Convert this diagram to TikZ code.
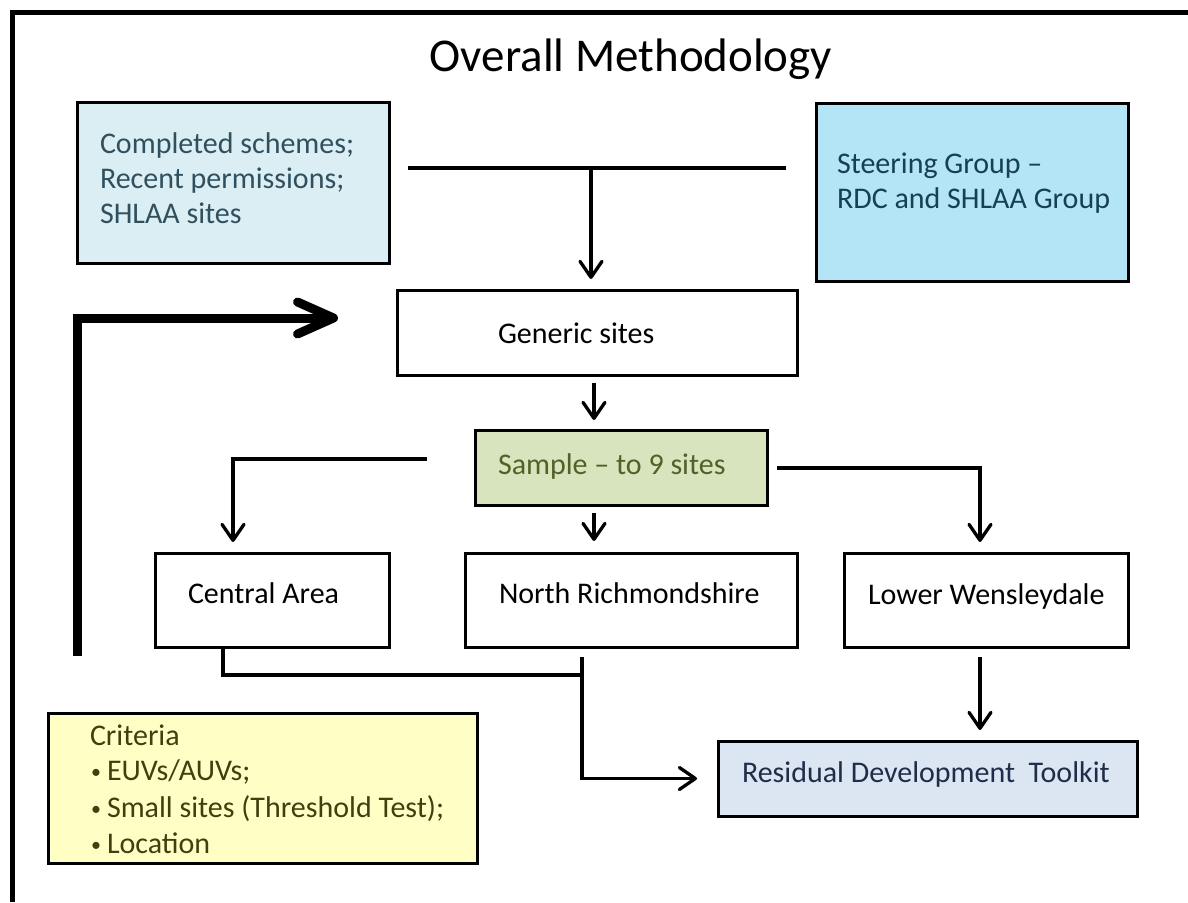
\documentclass[tikz,border=0pt]{standalone}
\usepackage{fontspec}
\setmainfont{Carlito}
\usetikzlibrary{arrows.meta}
\definecolor{compfill}{HTML}{DAEEF3}
\definecolor{comptext}{HTML}{31505F}
\definecolor{steerfill}{HTML}{B4E5F7}
\definecolor{steertext}{HTML}{173F55}
\definecolor{sampfill}{HTML}{D7E4BD}
\definecolor{samptext}{HTML}{4F6228}
\definecolor{resfill}{HTML}{DCE6F2}
\definecolor{restext}{HTML}{1F2D4A}
\definecolor{critfill}{HTML}{FFFFC5}
\definecolor{crittext}{HTML}{403F10}
\begin{document}
\begin{tikzpicture}[x=1pt,y=-1pt,
  box/.style={draw=black, line width=3pt, inner sep=0pt, outer sep=0pt, anchor=north west},
  txt/.style={anchor=base west, inner sep=0pt, outer sep=0pt, font=\fontsize{30}{36}\selectfont},
  bul/.style={anchor=base west, inner sep=0pt, outer sep=0pt, font=\fontsize{20}{24}\selectfont, text=crittext},
  conn/.style={line width=3.3pt, line join=miter},
  arr/.style={conn, -{Straight Barb[length=16pt,width=22pt,round]}},
  bigarr/.style={line width=9pt, line join=miter, -{Straight Barb[length=36pt,width=32pt,round]}}]
\fill[white] (0,0) rectangle (1188,902);
\useasboundingbox (0,0) rectangle (1188,902);
% frame
\draw[line width=5pt] (12,902) -- (12,12) -- (1188,12);
% title
\node[anchor=base, inner sep=0pt, font=\fontsize{47}{56}\selectfont] (title) at (631,71) {Overall Methodology};
% boxes
\node[box, fill=compfill, minimum width=312pt, minimum height=161pt] (comp) at (77,102) {};
\node[box, fill=steerfill, minimum width=312pt, minimum height=178pt] (steer) at (816,103) {};
\node[box, fill=white, minimum width=400pt, minimum height=85pt] (gen) at (397,290) {};
\node[box, fill=sampfill, minimum width=292pt, minimum height=75pt] (samp) at (475,430) {};
\node[box, fill=white, minimum width=234pt, minimum height=94pt] (cent) at (155,553) {};
\node[box, fill=white, minimum width=332pt, minimum height=94pt] (north) at (465,553) {};
\node[box, fill=white, minimum width=284pt, minimum height=94pt] (lower) at (844,553) {};
\node[box, fill=resfill, minimum width=419pt, minimum height=75pt] (resid) at (718,741) {};
\node[box, fill=critfill, minimum width=429pt, minimum height=150pt] (crit) at (48,713) {};
% texts
\node[txt, text=comptext] (c1) at (100,153) {Completed schemes;};
\node[txt, text=comptext] (c2) at (100,188) {Recent permissions;};
\node[txt, text=comptext] (c3) at (100,223) {SHLAA sites};
\node[txt, text=steertext] (s1) at (837,173) {Steering Group –};
\node[txt, text=steertext] (s2) at (837,208) {RDC and SHLAA Group};
\node[txt] (g1) at (498,343) {Generic sites};
\node[txt, text=samptext] (sa1) at (498,474) {Sample – to 9 sites};
\node[txt] (ce1) at (188,603) {Central Area};
\node[txt] (no1) at (499,603) {North Richmondshire};
\node[txt] (lo1) at (868,604) {Lower Wensleydale};
\node[txt, text=restext] (re1) at (742,782) {Residual Development~ Toolkit};
\node[txt, text=crittext] (k1) at (90,745) {Criteria};
\node[bul] (b2) at (91,778) {•};
\node[txt, text=crittext] (k2) at (107,780) {EUVs/AUVs;};
\node[bul] (b3) at (91,815) {•};
\node[txt, text=crittext] (k3) at (107,817) {Small sites (Threshold Test);};
\node[bul] (b4) at (91,851) {•};
\node[txt, text=crittext] (k4) at (107,853) {Location};
% helper coordinates
\coordinate (tl) at (408,168);
\coordinate (tr) at (786,168);
\coordinate (tj) at (591,168);
\coordinate (cx) at (594,0);
\coordinate (sl) at (427,459);
\coordinate (cl) at (233,0);
\coordinate (sr) at (777,468);
\coordinate (rl) at (980,0);
\coordinate (cb) at (223,0);
\coordinate (jn) at (582,675);
\coordinate (fb) at (77,656);
\coordinate (ft) at (338,318);
% connectors
\draw[conn] (tl) -- (tr);
\draw[arr, shorten >=11pt] (tj) -- (tj |- gen.north);
\draw[arr, shorten <=8pt, shorten >=10pt] (gen.south -| cx) -- (samp.north -| cx);
\draw[arr, shorten >=11pt] (sl) -| (cent.north -| cl);
\draw[arr, shorten <=8pt, shorten >=12pt] (samp.south -| cx) -- (north.north -| cx);
\draw[arr, shorten >=11pt] (sr) -| (lower.north -| rl);
\draw[arr, shorten <=10pt, shorten >=11pt] (lower.south -| rl) -- (resid.north -| rl);
\draw[conn] (cent.south -| cb) |- (jn);
\draw[arr, shorten <=10pt, shorten >=21pt] (north.south -| jn) |- (resid.west);
\draw[bigarr] (fb) |- (ft);
\end{tikzpicture}
\end{document}
